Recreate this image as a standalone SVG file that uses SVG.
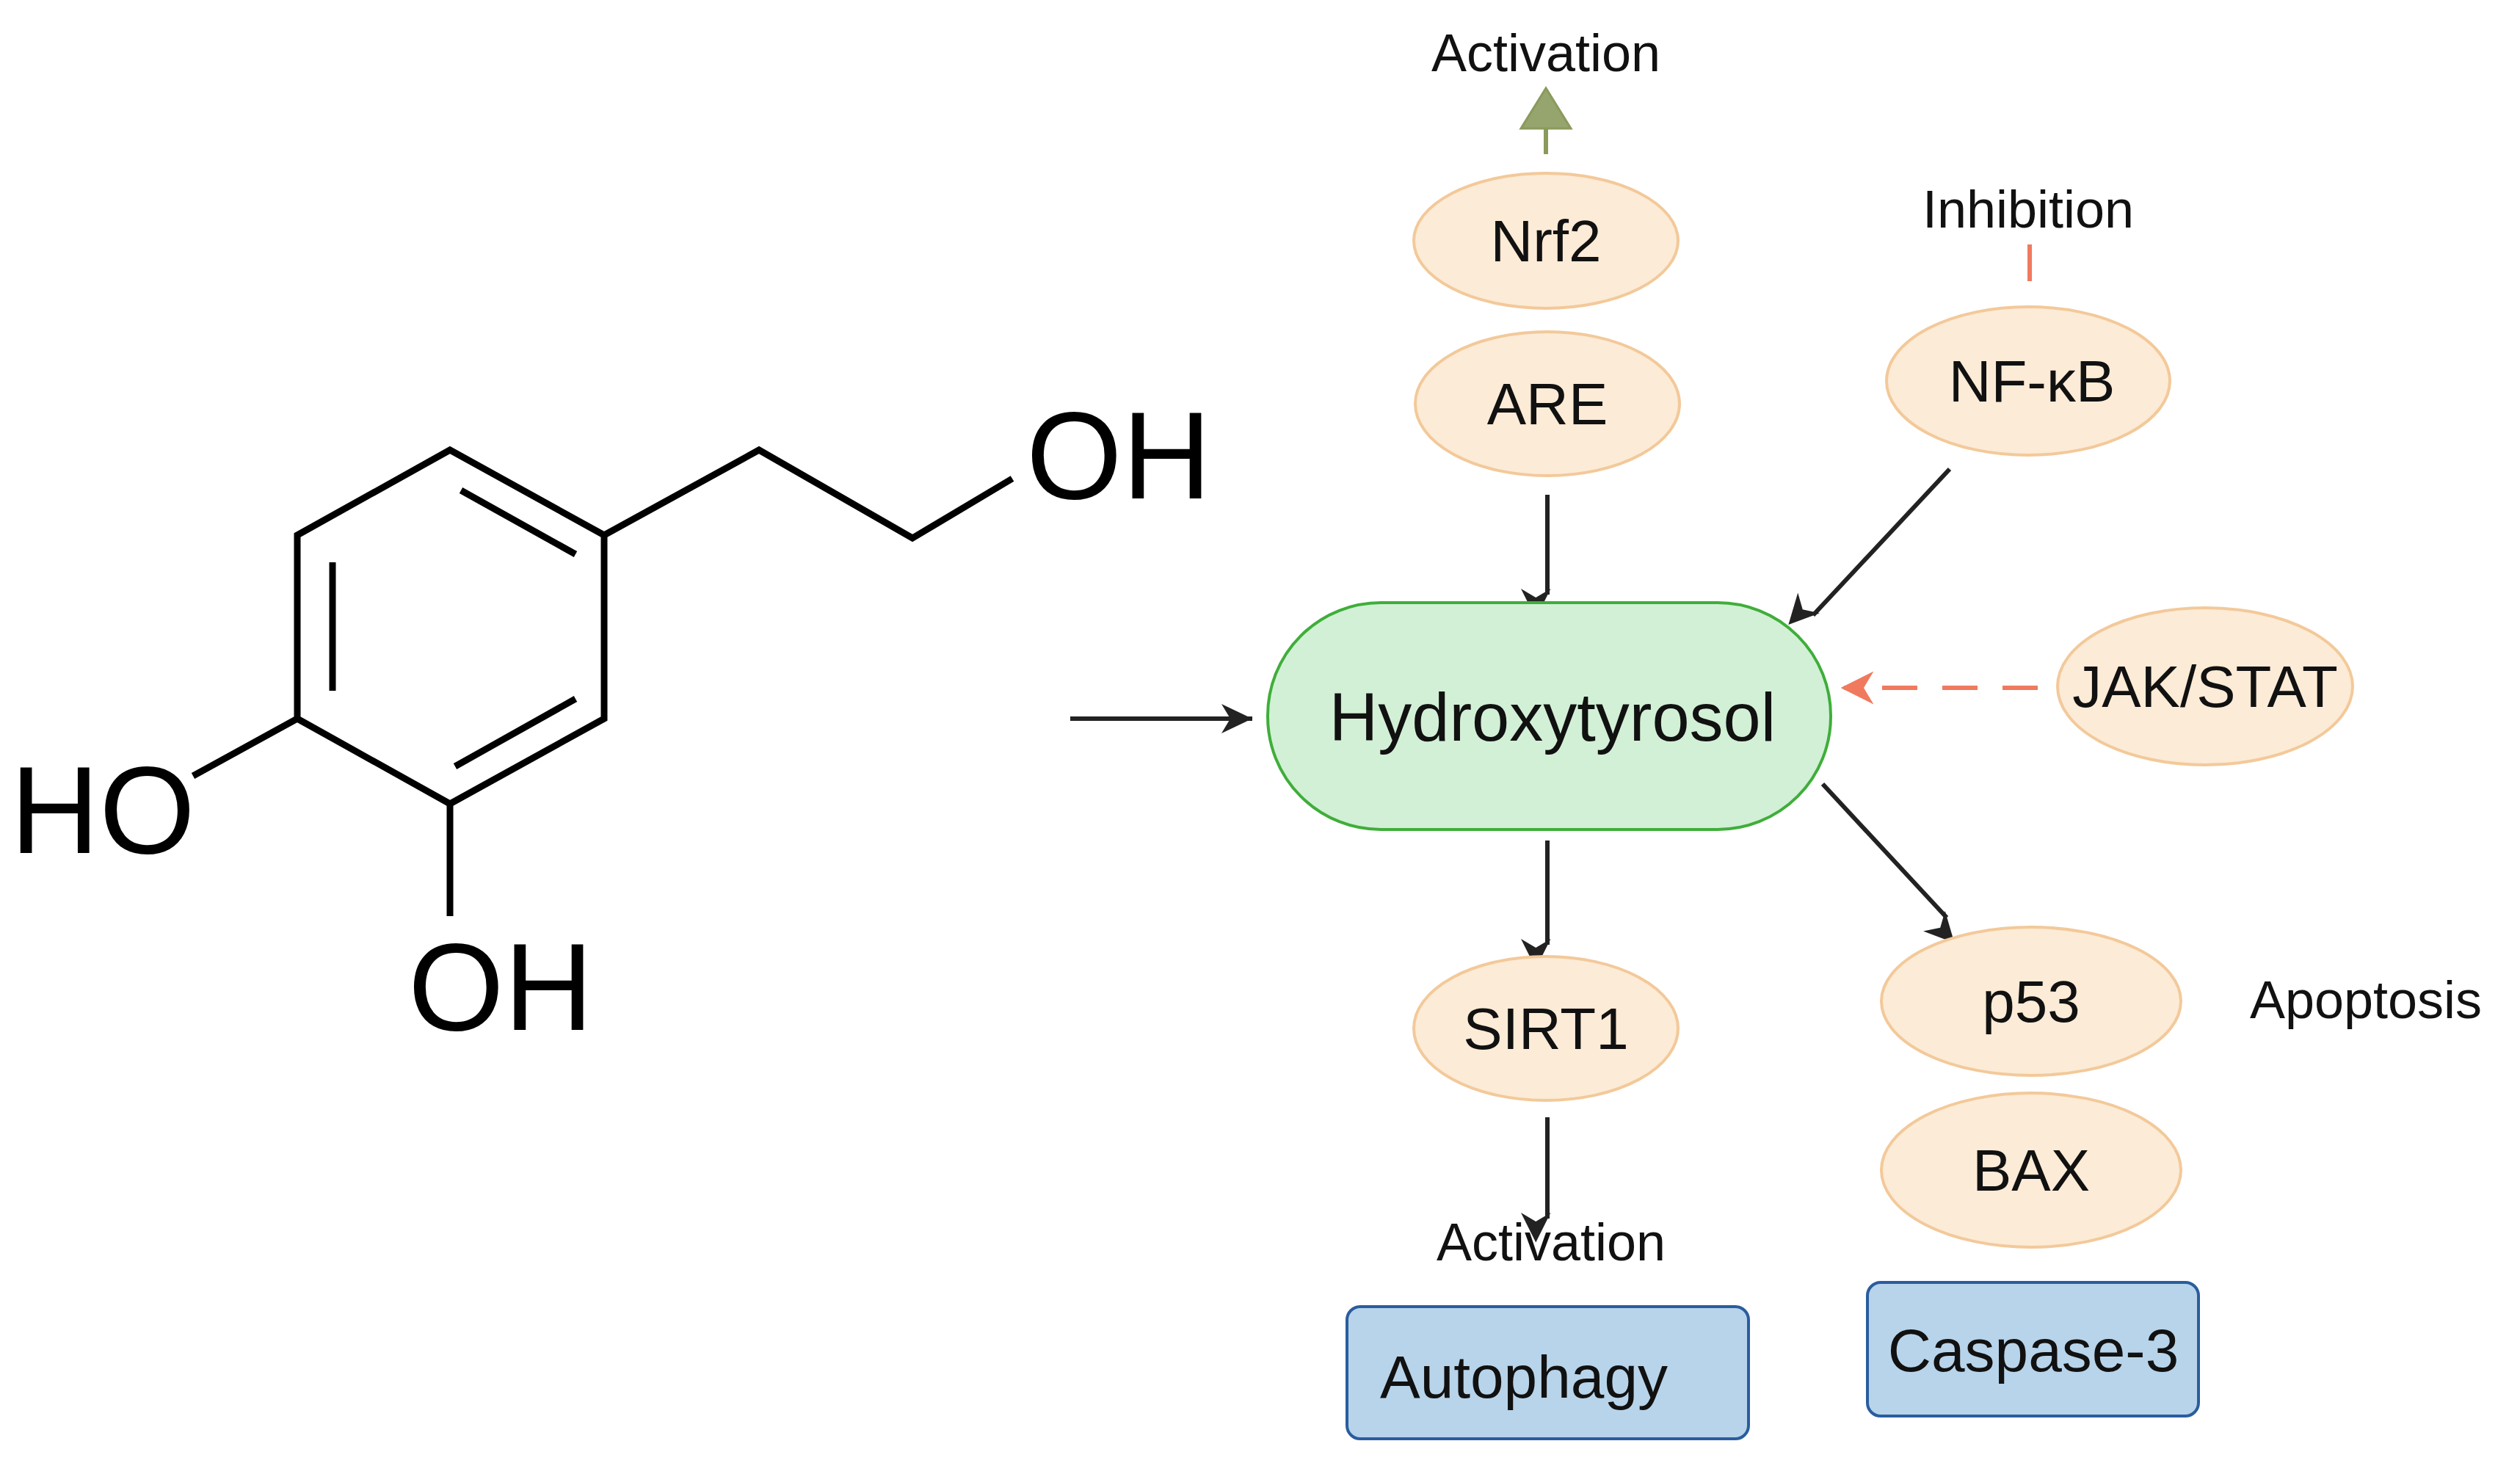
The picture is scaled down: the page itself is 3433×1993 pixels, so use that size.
<svg xmlns="http://www.w3.org/2000/svg" width="3433" height="1993" viewBox="0 0 3433 1993">
<defs>
<style>
text{font-family:"Liberation Sans",Arial,sans-serif;fill:#111;text-anchor:middle}
.node ellipse{fill:#fcebd6;stroke:#f3c99a;stroke-width:4}
.lbl{font-size:80px}
.box rect{fill:#b8d4ea;stroke:#2a5d9e;stroke-width:4}
.mol{stroke:#000;stroke-width:9;fill:none;stroke-linejoin:miter}
.atom{font-size:168px;text-anchor:start;fill:#000}
.arr{stroke:#222;stroke-width:6;fill:none;marker-end:url(#ah)}
</style>
<marker id="ah" viewBox="0 0 10 10" refX="9" refY="5" markerWidth="9" markerHeight="9" markerUnits="userSpaceOnUse" orient="auto" style="overflow:visible">
<path d="M0,0 L10,5 L0,10 L3,5 z" fill="#222" transform="scale(4.5)"/>
</marker>
<marker id="ahr" viewBox="0 0 10 10" refX="9" refY="5" markerUnits="userSpaceOnUse" markerWidth="45" markerHeight="45" orient="auto">
<path d="M0,0 L10,5 L0,10 L3,5 z" fill="#f07a5e"/>
</marker>
</defs>
<rect width="3433" height="1993" fill="#fff"/>
<g id="molecule">
<path class="mol" d="M613,613 L823,729 L823,979 L613,1095 L405,979 L405,729 Z"/>
<path class="mol" d="M628,668 L784,755 M453,766 L453,941 M620,1044 L784,952"/>
<path class="mol" d="M823,729 L1034,613 L1243,733 L1379,652 M405,979 L263,1057 M613,1095 L613,1248"/>
<text class="atom" x="1398" y="679">OH</text>
<text class="atom" x="14" y="1162">HO</text>
<text class="atom" x="556" y="1403">OH</text>
</g>
<g id="connectors">
<line class="arr" x1="1458" y1="979" x2="1706" y2="979" style="marker-end:none"/>
<path d="M1706,979 l-42,-20 l12,20 l-12,20 z" fill="#222"/>
<line x1="2106" y1="210" x2="2106" y2="160" stroke="#8a9a5b" stroke-width="6"/>
<path d="M2106,120 L2140,175 L2072,175 Z" fill="#96a46e" stroke="#8a9a5b" stroke-width="3"/>
<line x1="2765" y1="333" x2="2765" y2="383" stroke="#f07a5e" stroke-width="6"/>
<line class="arr" x1="2108" y1="674" x2="2108" y2="810"/>
<line class="arr" x1="2656" y1="639" x2="2470" y2="838"/>
<line x1="2776" y1="937" x2="2512" y2="937" stroke="#f07a5e" stroke-width="6" stroke-dasharray="48,34" marker-end="url(#ahr)"/>
<line class="arr" x1="2108" y1="1145" x2="2108" y2="1287"/>
<line class="arr" x1="2483" y1="1068" x2="2652" y2="1250"/>
<line class="arr" x1="2108" y1="1522" x2="2108" y2="1660"/>
</g>
<g id="labels">
<text x="2106" y="97" font-size="72">Activation</text>
<text x="2763" y="310" font-size="72">Inhibition</text>
<text x="3223" y="1387" font-size="72">Apoptosis</text>
<text x="2113" y="1717" font-size="72">Activation</text>
</g>
<g id="hydroxytyrosol">
<rect x="1727" y="821" width="767" height="309" rx="154" fill="#d2f0d6" stroke="#3fae3a" stroke-width="4"/>
<text x="2115" y="1009" font-size="92">Hydroxytyrosol</text>
</g>
<g id="nrf2" class="node"><ellipse cx="2106" cy="328" rx="180" ry="92"/><text class="lbl" x="2106" y="356">Nrf2</text></g>
<g id="are" class="node"><ellipse cx="2108" cy="550" rx="180" ry="98"/><text class="lbl" x="2108" y="578">ARE</text></g>
<g id="nfkb" class="node"><ellipse cx="2763" cy="519" rx="193" ry="101"/><text class="lbl" x="2768" y="547">NF-κB</text></g>
<g id="jakstat" class="node"><ellipse cx="3004" cy="935" rx="201" ry="107"/><text class="lbl" x="3004" y="963">JAK/STAT</text></g>
<g id="sirt1" class="node"><ellipse cx="2106" cy="1401" rx="180" ry="98"/><text class="lbl" x="2106" y="1429">SIRT1</text></g>
<g id="p53" class="node"><ellipse cx="2767" cy="1364" rx="204" ry="101"/><text class="lbl" x="2767" y="1392">p53</text></g>
<g id="bax" class="node"><ellipse cx="2767" cy="1594" rx="204" ry="105"/><text class="lbl" x="2767" y="1622">BAX</text></g>
<g id="autophagy" class="box"><rect x="1835" y="1780" width="547" height="180" rx="18"/><text x="2076" y="1904" font-size="82">Autophagy</text></g>
<g id="caspase3" class="box"><rect x="2544" y="1747" width="451" height="182" rx="18"/><text x="2770" y="1868" font-size="82">Caspase-3</text></g>
</svg>
